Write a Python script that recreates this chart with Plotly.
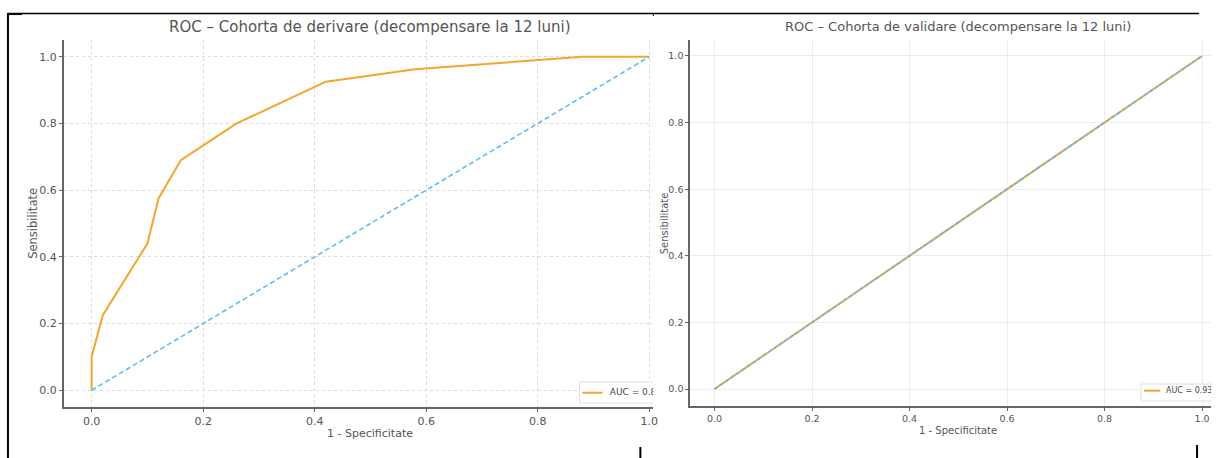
import plotly.graph_objects as go

# ---------------- data ----------------
fpr_deriv = [0.0, 0.0, 0.02, 0.10, 0.12, 0.16, 0.26, 0.42, 0.58, 0.88, 1.0]
tpr_deriv = [0.0, 0.10, 0.225, 0.44, 0.575, 0.69, 0.80, 0.925, 0.962, 1.0, 1.0]
fpr_valid = [0.0, 1.0]
tpr_valid = [0.0, 1.0]
chance_x = [0.0, 1.0]
chance_y = [0.0, 1.0]
auc_labels = ["AUC = 0.84", "AUC = 0.93"]
panel_titles = ["ROC \u2013 Cohorta de derivare (decompensare la 12 luni)",
                "ROC \u2013 Cohorta de validare (decompensare la 12 luni)"]
x_title = "1 - Specificitate"
y_title = "Sensibilitate"
tick_vals = [0.0, 0.2, 0.4, 0.6, 0.8, 1.0]
tick_text = ["0.0", "0.2", "0.4", "0.6", "0.8", "1.0"]

# ---------------- style ----------------
W, H = 1216, 458
FONT = "DejaVu Sans"
ORANGE = "#F2A62E"
BLUE = "#5CBDEE"
TXT = "#555555"


def px(x):
    return x / W


def py(y):
    return 1 - y / H


fig = go.Figure()

# left panel
fig.add_trace(go.Scatter(x=fpr_deriv, y=tpr_deriv, mode="lines", name=auc_labels[0],
                         line=dict(color=ORANGE, width=2), xaxis="x", yaxis="y",
                         showlegend=False))
fig.add_trace(go.Scatter(x=chance_x, y=chance_y, mode="lines",
                         line=dict(color=BLUE, width=1.6, dash="5px,3px"),
                         xaxis="x", yaxis="y", showlegend=False))
# right panel
fig.add_trace(go.Scatter(x=fpr_valid, y=tpr_valid, mode="lines", name=auc_labels[1],
                         line=dict(color=ORANGE, width=2), xaxis="x2", yaxis="y2",
                         showlegend=False))
fig.add_trace(go.Scatter(x=chance_x, y=chance_y, mode="lines",
                         line=dict(color=BLUE, width=1.6, dash="4px,2.5px"),
                         xaxis="x2", yaxis="y2", showlegend=False))

# legend labels (clipped by the panel edge like in the reference)
fig.add_trace(go.Scatter(x=[0.929], y=[-0.007], mode="text", text=[auc_labels[0]],
                         textposition="middle right", cliponaxis=True,
                         textfont=dict(family=FONT, size=9, color="#444444"),
                         xaxis="x", yaxis="y", showlegend=False, hoverinfo="skip"))
fig.add_trace(go.Scatter(x=[0.926], y=[-0.005], mode="text", text=[auc_labels[1]],
                         textposition="middle right", cliponaxis=True,
                         textfont=dict(family=FONT, size=8, color="#444444"),
                         xaxis="x2", yaxis="y2", showlegend=False, hoverinfo="skip"))

shapes = []
# legend boxes + sample lines
shapes.append(dict(type="rect", xref="x", yref="y", x0=0.875, x1=1.3, y0=-0.038, y1=0.025,
                   line=dict(color="#dddddd", width=1), fillcolor="white", layer="between"))
shapes.append(dict(type="line", xref="x", yref="y", x0=0.880, x1=0.916, y0=-0.007, y1=-0.007,
                   line=dict(color=ORANGE, width=2), layer="between"))
shapes.append(dict(type="rect", xref="x2", yref="y2", x0=0.875, x1=1.3, y0=-0.036, y1=0.015,
                   line=dict(color="#dddddd", width=1), fillcolor="white", layer="between"))
shapes.append(dict(type="line", xref="x2", yref="y2", x0=0.881, x1=0.914, y0=-0.005, y1=-0.005,
                   line=dict(color=ORANGE, width=2), layer="between"))

# document frame lines
frame = dict(type="line", xref="paper", yref="paper", layer="above")
shapes.append(dict(frame, x0=px(8), x1=px(1204), y0=py(13.5), y1=py(13.5),
                   line=dict(color="black", width=1.3)))
shapes.append(dict(frame, x0=px(8), x1=px(8), y0=py(13), y1=py(458),
                   line=dict(color="black", width=2)))
shapes.append(dict(frame, x0=px(8), x1=px(22), y0=py(14.3), y1=py(14.3),
                   line=dict(color="black", width=1.5)))
shapes.append(dict(frame, x0=px(656), x1=px(656), y0=py(13), y1=py(16),
                   line=dict(color="black", width=1)))
shapes.append(dict(frame, x0=px(643), x1=px(643), y0=py(447), y1=py(458),
                   line=dict(color="black", width=2)))
shapes.append(dict(frame, x0=px(1202), x1=px(1202), y0=py(445), y1=py(458),
                   line=dict(color="black", width=2)))

annotations = [
    dict(text=panel_titles[0], x=px(372), y=py(27), xref="paper", yref="paper",
         showarrow=False, xanchor="center", yanchor="middle",
         font=dict(family=FONT, size=15, color=TXT)),
    dict(text=panel_titles[1], x=px(962), y=py(27), xref="paper", yref="paper",
         showarrow=False, xanchor="center", yanchor="middle",
         font=dict(family=FONT, size=13, color=TXT)),
    dict(text=x_title, x=px(372), y=py(433), xref="paper", yref="paper",
         showarrow=False, xanchor="center", yanchor="middle",
         font=dict(family=FONT, size=11, color=TXT)),
    dict(text=x_title, x=px(962), y=py(430), xref="paper", yref="paper",
         showarrow=False, xanchor="center", yanchor="middle",
         font=dict(family=FONT, size=10, color=TXT)),
    dict(text=y_title, x=px(33), y=py(223), xref="paper", yref="paper",
         showarrow=False, xanchor="center", yanchor="middle", textangle=-90,
         font=dict(family=FONT, size=11.5, color=TXT)),
    dict(text=y_title, x=px(667), y=py(223), xref="paper", yref="paper",
         showarrow=False, xanchor="center", yanchor="middle", textangle=-90,
         font=dict(family=FONT, size=10, color=TXT)),
]


def axis(domain, rng, anchor, fsize, griddash, gridcolor):
    return dict(domain=domain, range=rng, anchor=anchor, showline=True,
                linecolor="#666666", linewidth=1.6, ticks="outside", ticklen=3,
                tickcolor="#666666", tickwidth=1, tickvals=tick_vals, ticktext=tick_text,
                tickfont=dict(family=FONT, size=fsize, color=TXT), showgrid=True,
                gridcolor=gridcolor, griddash=griddash, gridwidth=1, zeroline=False,
                fixedrange=True)


fig.update_layout(
    width=W, height=H, margin=dict(l=0, r=0, t=0, b=0),
    paper_bgcolor="white", plot_bgcolor="white",
    font=dict(family=FONT, color=TXT),
    xaxis=axis([px(64), px(656)], [-0.05, 1.0071], "y", 11, "dot", "#dadada"),
    yaxis=axis([py(407), py(40)], [-0.05, 1.05], "x", 11, "dot", "#dadada"),
    xaxis2=axis([px(693), 1.0], [-0.05, (1216 - 718) / 489], "y2", 9.5, "solid", "#ebebeb"),
    yaxis2=axis([py(406), py(40)], [-0.051, 1.048], "x2", 9.5, "solid", "#ebebeb"),
    shapes=shapes, annotations=annotations, showlegend=False,
)

fig.write_html("out.html", config={"displayModeBar": False},
               post_script="document.body.style.margin='0';document.body.style.overflow='hidden';")
